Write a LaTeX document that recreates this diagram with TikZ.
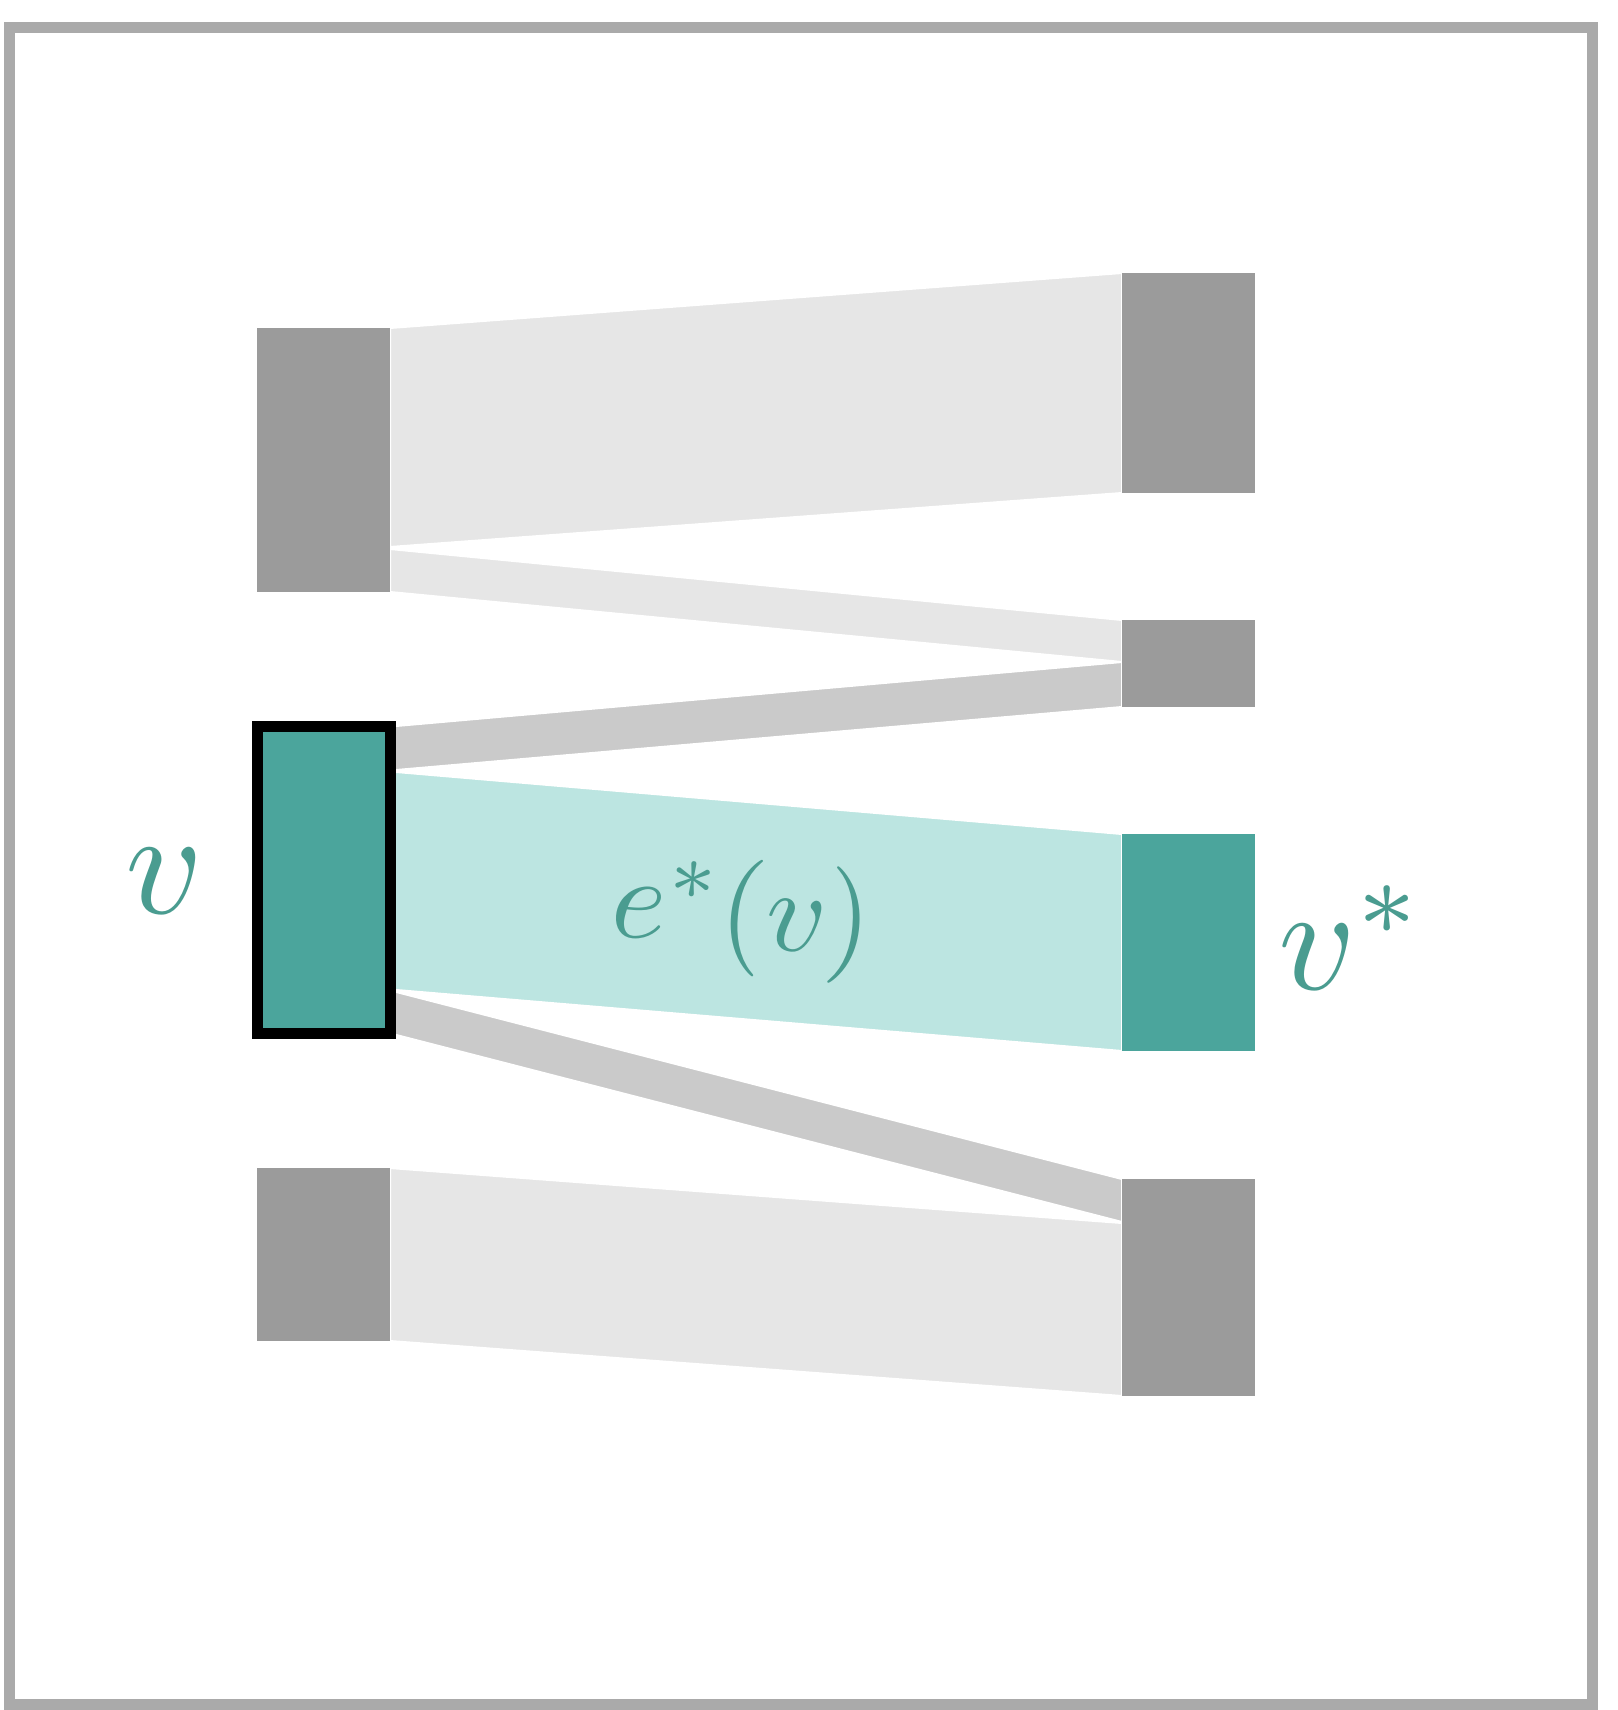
\documentclass[tikz,border=0pt]{standalone}
\usetikzlibrary{calc,backgrounds}
\definecolor{framegray}{HTML}{AAAAAA}
\definecolor{nodegray}{HTML}{9B9B9B}
\definecolor{flowlight}{HTML}{E6E6E6}
\definecolor{flowmid}{HTML}{CACACA}
\definecolor{tealnode}{HTML}{4BA59C}
\definecolor{tealflow}{HTML}{BCE5E1}
\definecolor{teallabel}{HTML}{4A9C90}
\begin{document}
\begin{tikzpicture}[
x=1pt, y=-1pt,
block/.style={rectangle, fill=nodegray, minimum width=133pt, inner sep=0pt, outer sep=0pt},
chosen/.style={block, fill=tealnode},
band/.style={draw=white, line width=2pt},
mathlabel/.style={text=teallabel, scale=#1},
mathlabel/.default=15
]
\useasboundingbox (0,0) rectangle (1617,1710);
\draw[framegray, line width=11pt] (9.5,27.5) rectangle (1592.5,1704);

% left column
\node[block, minimum height=264pt] (l1) at (323.5,460) {};
\node[chosen, minimum height=307pt, draw=black, line width=11pt] (v) at (324,880) {};
\node[block, minimum height=173pt] (l3) at (323.5,1254.5) {};

% right column
\node[block, minimum height=220pt] (r1) at (1188.5,383) {};
\node[block, minimum height=87pt] (r2) at (1188.5,663.5) {};
\node[chosen, minimum height=217pt] (vstar) at (1188.5,942.5) {};
\node[block, minimum height=217pt] (r4) at (1188.5,1287.5) {};

% flows
\begin{scope}[on background layer]
\filldraw[band, fill=flowlight] (l1.north east) -- (r1.north west) -- (r1.south west) -- ($(l1.north east)+(0,219)$) -- cycle;
\filldraw[band, fill=flowlight] ($(l1.north east)+(0,221)$) -- (r2.north west) -- ($(r2.north west)+(0,42)$) -- (l1.south east) -- cycle;
\filldraw[band, fill=flowmid] (v.north east) -- ($(r2.north west)+(0,42)$) -- (r2.south west) -- ($(v.north east)+(0,44)$) -- cycle;
\filldraw[band, fill=tealflow] ($(v.north east)+(0,45)$) -- (vstar.north west) -- (vstar.south west) -- ($(v.north east)+(0,263)$) -- cycle;
\filldraw[band, fill=flowmid] ($(v.north east)+(0,264)$) -- (r4.north west) -- ($(r4.north west)+(0,43)$) -- (v.south east) -- cycle;
\filldraw[band, fill=flowlight] (l3.north east) -- ($(r4.north west)+(0,44)$) -- (r4.south west) -- (l3.south east) -- cycle;
\end{scope}

% labels
\node[mathlabel, anchor=base] (vlabel) at (165,913) {$v$};
\node[mathlabel, anchor=base] (vstarlabel) at (1352,989) {$v^*$};
\node[mathlabel=11.7, rotate=-4.9] (flowlabel) at (742,917) {$e^*(v)$};

\end{tikzpicture}
\end{document}
